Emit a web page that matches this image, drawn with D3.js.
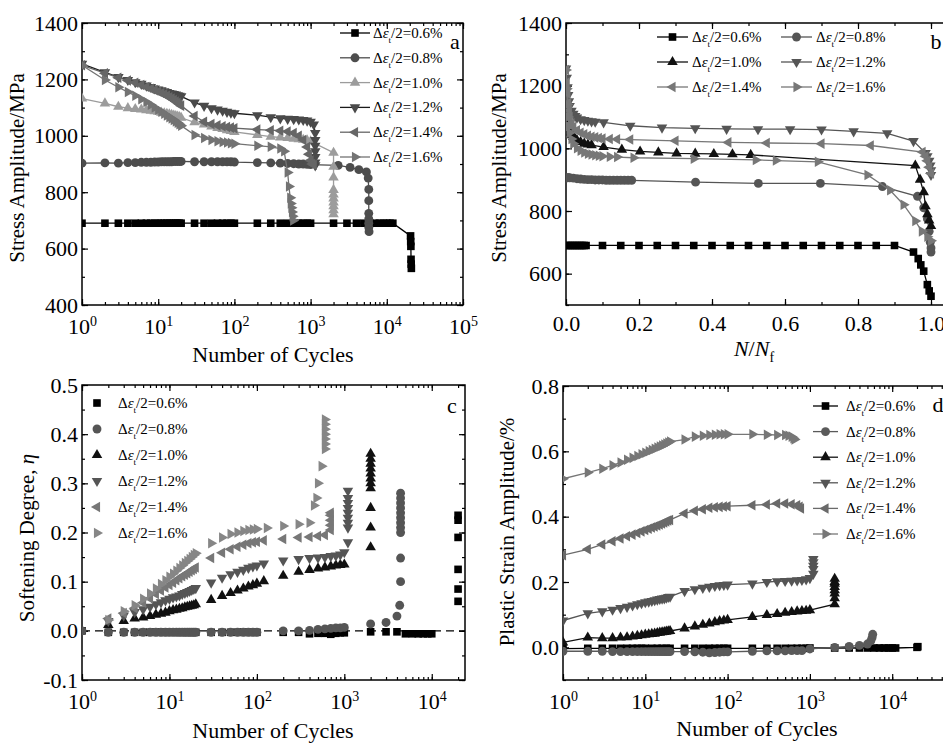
<!DOCTYPE html>
<html>
<head>
<meta charset="utf-8">
<script src="https://cdn.jsdelivr.net/npm/d3@7"></script>
<style>
  body { margin: 0; background: #fff; }
  svg { display: block; font-family: "Liberation Serif", "DejaVu Serif", serif; }
</style>
</head>
<body>
<div id="chart"></div>
<script>
// strain amplitude levels shown in every legend
const strainLevels = ["0.6", "0.8", "1.0", "1.2", "1.4", "1.6"];
const markerShapes = ["square", "circle", "up", "down", "left", "right"];

// tick values
const cycleTicksA = [1, 10, 100, 1000, 10000, 100000];
const cycleTicksC = [1, 10, 100, 1000, 10000];
const stressTicksA = [400, 600, 800, 1000, 1200, 1400];
const stressTicksB = [600, 800, 1000, 1200, 1400];
const ratioTicks = [0, 0.2, 0.4, 0.6, 0.8, 1.0];
const softTicks = [-0.1, 0, 0.1, 0.2, 0.3, 0.4, 0.5];
const plasticTicks = [0, 0.2, 0.4, 0.6, 0.8];

// (a) stress amplitude (MPa) vs number of cycles
const stressCycles06 = [[1,690],[2,690],[3,690],[4,690],[5,690],[6,690],[7,690],[8,690],[9,690],[10,690],[11,690],[12,690],[13,690],[14,690],[15,690],[16,690],[17,690],[18,690],[19,690],[20,690],[30,690],[40,690],[50,690],[60,690],[70,690],[80,690],[90,690],[100,690],[200,690],[300,690],[400,690],[500,690],[600,690],[700,690],[800,690],[900,690],[1000,690],[2000,690],[3000,690],[4000,690],[5000,690],[6000,690],[7000,690],[8000,690],[9000,690],[10000,690],[11000,690],[12000,690],[20500,645],[20600,625],[20700,608],[20800,562],[20900,545],[21000,530]];
const stressCycles08 = [[1,903],[2,904],[3,903],[4,905],[5,905],[6,906],[7,906],[8,906],[9,907],[10,907],[11,908],[12,908],[13,908],[14,908],[15,908],[16,909],[17,909],[18,909],[19,909],[20,909],[30,908],[40,908],[50,908],[60,908],[70,908],[80,908],[90,908],[100,907],[200,905],[300,904],[400,903],[500,902],[600,901],[700,900],[800,900],[900,899],[1000,898],[2300,895],[3300,888],[4300,880],[5400,872],[5700,850],[5800,810],[5800,770],[5800,725],[5800,705],[5800,690],[5800,675],[5850,660]];
const stressCycles10 = [[1,1132],[2,1115],[3,1103],[4,1098],[5,1095],[6,1093],[7,1091],[8,1089],[9,1087],[10,1085],[11,1082],[12,1080],[13,1078],[14,1076],[15,1074],[16,1072],[17,1070],[18,1068],[19,1066],[20,1064],[30,1048],[40,1040],[50,1033],[60,1028],[70,1024],[80,1020],[90,1017],[100,1014],[200,1003],[300,997],[400,994],[500,992],[600,990],[700,988],[800,986],[900,984],[1000,980],[2000,940],[2000,890],[2000,852],[2000,808],[2000,792],[2000,778],[2000,764],[2000,750],[2000,736],[2000,722]];
const stressCycles12 = [[1,1255],[2,1225],[3,1208],[4,1198],[5,1190],[6,1184],[7,1178],[8,1173],[9,1168],[10,1164],[11,1161],[12,1158],[13,1155],[14,1152],[15,1150],[16,1148],[17,1146],[18,1144],[19,1142],[20,1140],[30,1118],[40,1106],[50,1098],[60,1093],[70,1089],[80,1085],[90,1082],[100,1080],[200,1073],[300,1066],[400,1062],[500,1060],[600,1059],[700,1058],[800,1056],[900,1054],[1000,1050],[1100,1040],[1150,1010],[1150,985],[1150,965],[1150,945],[1150,925],[1150,905],[1150,895]];
const stressCycles14 = [[1,1250],[2,1222],[3,1206],[4,1196],[5,1188],[6,1180],[7,1173],[8,1167],[9,1162],[10,1157],[11,1152],[12,1147],[13,1142],[14,1137],[15,1132],[16,1127],[17,1122],[18,1117],[19,1112],[20,1107],[30,1070],[40,1050],[50,1042],[60,1037],[70,1034],[80,1031],[90,1029],[100,1027],[200,1022],[300,1020],[400,1018],[500,1015],[600,1010],[700,1000],[800,985],[900,960],[950,935],[1000,912],[1050,900],[1100,897]];
const stressCycles16 = [[1,1250],[2,1198],[3,1172],[4,1155],[5,1142],[6,1130],[7,1120],[8,1110],[9,1100],[10,1092],[11,1085],[12,1078],[13,1072],[14,1066],[15,1061],[16,1056],[17,1051],[18,1046],[19,1041],[20,1036],[30,1003],[40,992],[50,985],[60,981],[70,978],[80,976],[90,974],[100,972],[200,965],[300,961],[400,955],[450,945],[500,870],[520,820],[540,780],[550,760],[560,745],[570,730],[580,715],[590,700]];

// (b) stress amplitude (MPa) vs N/Nf
const stressRatio06 = [[0,690],[0.005,690],[0.01,690],[0.015,690],[0.02,690],[0.025,690],[0.03,690],[0.035,690],[0.04,690],[0.045,690],[0.05,690],[0.055,690],[0.1,690],[0.15,690],[0.2,690],[0.25,690],[0.3,690],[0.35,690],[0.4,690],[0.45,690],[0.5,690],[0.55,690],[0.6,690],[0.65,690],[0.7,690],[0.75,690],[0.8,690],[0.85,690],[0.9,690],[0.952,669],[0.965,648],[0.972,628],[0.98,608],[0.99,565],[0.995,545],[1.0,528]];
const stressRatio08 = [[0,905],[0.005,907],[0.01,906],[0.02,905],[0.03,903],[0.04,902],[0.05,901],[0.06,900],[0.07,900],[0.08,899],[0.09,899],[0.1,899],[0.11,898],[0.12,898],[0.13,898],[0.14,898],[0.15,898],[0.16,898],[0.17,898],[0.18,898],[0.355,892],[0.527,888],[0.697,888],[0.867,878],[0.963,847],[0.98,810],[0.99,775],[0.995,735],[0.998,700],[1.0,682],[1.0,669]];
const stressRatio10 = [[0,1100],[0.002,1085],[0.005,1070],[0.008,1060],[0.012,1050],[0.016,1042],[0.02,1036],[0.025,1030],[0.03,1026],[0.04,1020],[0.05,1015],[0.06,1012],[0.07,1010],[0.103,1004],[0.153,996],[0.203,990],[0.253,987],[0.303,984],[0.354,983],[0.405,982],[0.456,981],[0.506,979],[0.957,945],[0.97,900],[0.98,860],[0.985,815],[0.99,790],[0.995,770],[1.0,752]];
const stressRatio12 = [[0,1255],[0.002,1225],[0.004,1195],[0.006,1170],[0.008,1150],[0.01,1135],[0.015,1120],[0.02,1110],[0.025,1103],[0.03,1098],[0.04,1093],[0.05,1090],[0.06,1088],[0.07,1086],[0.08,1085],[0.103,1083],[0.176,1072],[0.263,1066],[0.354,1064],[0.44,1062],[0.526,1061],[0.614,1061],[0.7,1060],[0.788,1054],[0.88,1048],[0.952,1023],[0.985,985],[0.99,975],[0.995,960],[0.998,945],[1.0,930],[1.0,915]];
const stressRatio14 = [[0,1250],[0.002,1210],[0.004,1175],[0.006,1145],[0.008,1120],[0.01,1100],[0.015,1080],[0.02,1068],[0.03,1058],[0.04,1050],[0.05,1045],[0.06,1040],[0.07,1037],[0.08,1035],[0.09,1033],[0.1,1031],[0.12,1030],[0.14,1029],[0.176,1028],[0.3,1024],[0.445,1019],[0.55,1017],[0.7,1015],[0.835,1009],[0.977,988],[0.985,975],[0.99,960],[0.995,940],[1.0,920]];
const stressRatio16 = [[0,1250],[0.002,1190],[0.004,1140],[0.006,1100],[0.008,1070],[0.01,1050],[0.015,1030],[0.02,1015],[0.03,1000],[0.04,992],[0.05,987],[0.06,983],[0.07,980],[0.08,978],[0.09,976],[0.1,975],[0.12,973],[0.14,972],[0.185,970],[0.35,967],[0.52,963],[0.575,961],[0.69,957],[0.826,915],[0.888,866],[0.925,820],[0.957,768],[0.975,735],[0.99,718],[1.0,705]];

// (c) softening degree vs number of cycles
const soften06 = [[1,0],[2,-0.003],[3,-0.003],[4,-0.003],[5,-0.003],[6,-0.003],[7,-0.003],[8,-0.003],[9,-0.003],[10,-0.003],[12,-0.003],[14,-0.003],[16,-0.003],[18,-0.003],[20,-0.003],[30,-0.003],[40,-0.003],[50,-0.003],[60,-0.003],[70,-0.003],[80,-0.003],[90,-0.003],[100,-0.003],[200,-0.003],[300,-0.003],[400,-0.006],[500,-0.005],[600,-0.005],[700,-0.007],[800,-0.005],[900,-0.004],[1000,-0.004],[2000,-0.002],[3000,-0.002],[4000,-0.002],[5000,-0.006],[6000,-0.006],[7000,-0.006],[8000,-0.006],[9000,-0.006],[10000,-0.006],[20000,0.06],[20000,0.085],[20000,0.125],[20000,0.19],[20000,0.225],[20000,0.235]];
const soften08 = [[1,0],[2,-0.003],[3,-0.003],[4,-0.003],[5,-0.003],[6,-0.003],[7,-0.003],[8,-0.003],[9,-0.003],[10,-0.003],[11,-0.003],[12,-0.003],[13,-0.003],[14,-0.003],[15,-0.003],[16,-0.003],[17,-0.003],[18,-0.003],[19,-0.003],[20,-0.003],[30,-0.003],[40,-0.003],[50,-0.003],[60,-0.003],[70,-0.003],[80,-0.003],[90,-0.003],[100,-0.003],[200,0],[300,0],[400,0.001],[500,0.003],[600,0.004],[700,0.005],[800,0.006],[900,0.006],[1000,0.007],[2000,0.014],[3000,0.017],[4000,0.03],[4300,0.052],[4400,0.1],[4400,0.148],[4400,0.2],[4400,0.21],[4400,0.22],[4400,0.23],[4400,0.24],[4400,0.25],[4400,0.26],[4400,0.27],[4400,0.28]];
const soften10 = [[2,0.012],[3,0.02],[4,0.025],[5,0.027],[6,0.03],[7,0.033],[8,0.035],[9,0.037],[10,0.04],[11,0.042],[12,0.043],[13,0.045],[14,0.046],[15,0.048],[16,0.049],[17,0.05],[18,0.051],[19,0.052],[20,0.054],[30,0.063],[40,0.071],[50,0.077],[60,0.082],[70,0.086],[80,0.09],[90,0.093],[100,0.096],[120,0.101],[200,0.112],[300,0.12],[400,0.124],[500,0.127],[600,0.129],[700,0.131],[800,0.133],[900,0.134],[1000,0.135],[2000,0.17],[2000,0.21],[2000,0.25],[2000,0.29],[2000,0.3],[2000,0.31],[2000,0.32],[2000,0.33],[2000,0.34],[2000,0.35],[2000,0.36]];
const soften12 = [[2,0.02],[3,0.031],[4,0.038],[5,0.044],[6,0.049],[7,0.054],[8,0.058],[9,0.062],[10,0.065],[11,0.068],[12,0.07],[13,0.072],[14,0.075],[15,0.077],[16,0.079],[17,0.081],[18,0.083],[19,0.085],[20,0.087],[30,0.098],[40,0.108],[50,0.115],[60,0.12],[70,0.124],[80,0.128],[90,0.131],[100,0.133],[120,0.137],[200,0.143],[300,0.146],[400,0.148],[500,0.149],[600,0.15],[700,0.152],[800,0.153],[900,0.155],[1000,0.16],[1100,0.18],[1100,0.21],[1100,0.22],[1100,0.23],[1100,0.24],[1100,0.25],[1100,0.26],[1100,0.27],[1100,0.285]];
const soften14 = [[2,0.025],[3,0.036],[4,0.046],[5,0.057],[6,0.066],[7,0.075],[8,0.082],[9,0.088],[10,0.093],[11,0.098],[12,0.103],[13,0.107],[14,0.111],[15,0.114],[16,0.117],[17,0.12],[18,0.123],[19,0.126],[20,0.129],[30,0.148],[40,0.159],[50,0.166],[60,0.171],[70,0.175],[80,0.178],[90,0.18],[100,0.181],[120,0.184],[200,0.187],[300,0.19],[400,0.191],[500,0.193],[600,0.195],[700,0.205],[700,0.215],[700,0.225],[700,0.235],[700,0.24]];
const soften16 = [[2,0.022],[3,0.04],[4,0.052],[5,0.065],[6,0.076],[7,0.086],[8,0.095],[9,0.103],[10,0.11],[11,0.116],[12,0.122],[13,0.128],[14,0.133],[15,0.138],[16,0.142],[17,0.146],[18,0.15],[19,0.154],[20,0.158],[30,0.178],[40,0.19],[50,0.197],[60,0.2],[70,0.203],[80,0.205],[90,0.206],[100,0.207],[130,0.209],[200,0.213],[300,0.217],[400,0.22],[450,0.255],[480,0.27],[500,0.3],[550,0.335],[600,0.37],[600,0.38],[600,0.39],[600,0.4],[600,0.41],[600,0.42],[600,0.43]];

// (d) plastic strain amplitude (%) vs number of cycles
const plastic06 = [[1,-0.004],[2,-0.003],[3,-0.003],[4,-0.003],[5,-0.003],[6,-0.003],[7,-0.003],[8,-0.003],[9,-0.003],[10,-0.003],[12,-0.003],[14,-0.003],[16,-0.003],[18,-0.003],[20,-0.003],[30,-0.003],[40,-0.003],[50,-0.003],[60,-0.003],[70,-0.003],[80,-0.003],[90,-0.003],[100,-0.003],[200,-0.003],[300,-0.003],[400,-0.003],[500,-0.003],[600,-0.003],[700,-0.003],[800,-0.003],[900,-0.003],[1000,-0.002],[2000,-0.002],[3000,-0.002],[4000,-0.002],[5000,-0.002],[6000,-0.002],[7000,-0.002],[8000,-0.002],[9000,-0.002],[10000,-0.002],[11000,-0.002],[20000,0],[20500,0.002]];
const plastic08 = [[1,-0.012],[2,-0.012],[3,-0.012],[4,-0.013],[5,-0.013],[6,-0.013],[7,-0.013],[8,-0.013],[9,-0.013],[10,-0.013],[11,-0.013],[12,-0.013],[13,-0.013],[14,-0.013],[15,-0.013],[16,-0.013],[17,-0.013],[18,-0.013],[19,-0.013],[20,-0.013],[30,-0.013],[40,-0.014],[50,-0.015],[60,-0.017],[70,-0.016],[80,-0.015],[90,-0.014],[100,-0.014],[200,-0.012],[300,-0.011],[400,-0.011],[500,-0.011],[600,-0.01],[700,-0.01],[800,-0.01],[1000,-0.005],[2000,0],[3000,0.003],[4000,0.006],[5000,0.01],[5500,0.02],[5700,0.03],[5800,0.04]];
const plastic10 = [[1,0.015],[2,0.03],[3,0.028],[4,0.028],[5,0.03],[6,0.031],[7,0.033],[8,0.035],[9,0.037],[10,0.039],[11,0.04],[12,0.041],[13,0.042],[14,0.044],[15,0.045],[16,0.046],[17,0.047],[18,0.048],[19,0.049],[20,0.05],[30,0.058],[40,0.064],[50,0.069],[60,0.073],[70,0.077],[80,0.08],[90,0.082],[100,0.084],[200,0.093],[300,0.099],[400,0.102],[500,0.106],[600,0.108],[700,0.11],[800,0.111],[900,0.112],[1000,0.114],[2000,0.132],[2000,0.15],[2000,0.165],[2000,0.175],[2000,0.185],[2000,0.195],[2000,0.2],[2000,0.21]];
const plastic12 = [[1,0.082],[2,0.104],[3,0.11],[4,0.115],[5,0.12],[6,0.124],[7,0.128],[8,0.132],[9,0.135],[10,0.138],[11,0.14],[12,0.142],[13,0.144],[14,0.146],[15,0.148],[16,0.149],[17,0.15],[18,0.152],[19,0.154],[20,0.155],[30,0.172],[40,0.178],[50,0.182],[60,0.185],[70,0.188],[80,0.19],[90,0.191],[100,0.192],[200,0.195],[300,0.2],[400,0.202],[500,0.203],[600,0.204],[700,0.205],[800,0.206],[900,0.208],[1000,0.212],[1100,0.225],[1100,0.24],[1100,0.25],[1100,0.26],[1100,0.27]];
const plastic14 = [[1,0.282],[2,0.3],[3,0.315],[4,0.325],[5,0.333],[6,0.34],[7,0.345],[8,0.35],[9,0.355],[10,0.359],[11,0.363],[12,0.367],[13,0.37],[14,0.373],[15,0.376],[16,0.379],[17,0.382],[18,0.385],[19,0.388],[20,0.39],[30,0.41],[40,0.418],[50,0.423],[60,0.427],[70,0.429],[80,0.43],[90,0.431],[100,0.432],[200,0.435],[300,0.437],[400,0.44],[500,0.44],[600,0.438],[700,0.435],[750,0.43],[780,0.425]];
const plastic16 = [[1,0.516],[2,0.535],[3,0.547],[4,0.557],[5,0.566],[6,0.574],[7,0.58],[8,0.586],[9,0.591],[10,0.596],[11,0.6],[12,0.604],[13,0.608],[14,0.612],[15,0.615],[16,0.618],[17,0.621],[18,0.624],[19,0.627],[20,0.63],[30,0.636],[40,0.645],[50,0.648],[60,0.65],[70,0.651],[80,0.652],[90,0.652],[100,0.652],[200,0.652],[300,0.651],[400,0.65],[500,0.65],[550,0.648],[600,0.645],[630,0.64],[650,0.636]];

const width = 943;
const height = 745;

const svg = d3
  .select("#chart")
  .append("svg")
  .attr("width", width)
  .attr("height", height)
  .attr("viewBox", [0, 0, width, height]);

/**
 * Marker path for a given shape, centred on 0,0.
 */
function markerPath(shape) {
  if (shape === "square") return d3.symbol(d3.symbolSquare, 58)();
  if (shape === "circle") return d3.symbol(d3.symbolCircle, 62)();
  return d3.symbol(d3.symbolTriangle, 48)();
}

function markerRotation(shape) {
  return { down: 180, left: -90, right: 90 }[shape] || 0;
}

/**
 * Legend label "Δε_t/2=x%" with italic epsilon and subscript t.
 */
function strainLabel(text, level, size) {
  text.append("tspan").text("Δ");
  text.append("tspan").attr("font-style", "italic").text("ε");
  text.append("tspan").attr("font-size", size * 0.6).attr("dy", size * 0.35).text("t");
  text.append("tspan").attr("dy", -size * 0.35).text(`/2=${level}%`);
}

function drawPanel(p) {
  const g = svg.append("g").attr("class", `panel-${p.id}`);

  // scales
  const x = (p.xLog ? d3.scaleLog() : d3.scaleLinear())
    .domain(p.xDomain)
    .range([p.left, p.right]);
  const y = d3.scaleLinear().domain(p.yDomain).range([p.bottom, p.top]);

  const tickFont = 22;
  const titleFont = 22;

  // minor ticks (unlabelled)
  const xMinor = p.xLog ? x.ticks() : x.ticks(p.xMinorCount);
  const yMinor = y.ticks(p.yMinorCount);

  const styleAxis = (sel) => {
    sel.select(".domain").remove();
    sel.attr("font-family", null).attr("font-size", tickFont);
    sel.selectAll(".tick line").attr("stroke", "#000").attr("stroke-width", 1.2);
  };

  // bottom axis
  g.append("g")
    .attr("transform", `translate(0,${p.bottom})`)
    .call(d3.axisBottom(x).tickValues(xMinor).tickFormat("").tickSize(-3).tickSizeOuter(0))
    .call(styleAxis);
  g.append("g")
    .attr("transform", `translate(0,${p.bottom})`)
    .call(
      d3.axisBottom(x).tickValues(p.xTicks).tickSize(-6).tickSizeOuter(0).tickPadding(p.xLog ? 13 : 10)
        .tickFormat(p.xLog ? () => "10" : (d) => d.toFixed(1))
    )
    .call(styleAxis)
    .call((ax) => {
      if (!p.xLog) return;
      ax.selectAll(".tick text").each(function (d) {
        d3.select(this)
          .append("tspan")
          .attr("dy", "-0.55em")
          .attr("font-size", 14)
          .text(Math.round(Math.log10(d)));
      });
    });

  // top axis (mirrored ticks)
  g.append("g")
    .attr("transform", `translate(0,${p.top})`)
    .call(d3.axisTop(x).tickValues(xMinor).tickFormat("").tickSize(-3).tickSizeOuter(0))
    .call(styleAxis);
  g.append("g")
    .attr("transform", `translate(0,${p.top})`)
    .call(d3.axisTop(x).tickValues(p.xTicks).tickFormat("").tickSize(-6).tickSizeOuter(0))
    .call(styleAxis);

  // left axis
  g.append("g")
    .attr("transform", `translate(${p.left},0)`)
    .call(d3.axisLeft(y).tickValues(yMinor).tickFormat("").tickSize(-3).tickSizeOuter(0))
    .call(styleAxis);
  g.append("g")
    .attr("transform", `translate(${p.left},0)`)
    .call(
      d3.axisLeft(y).tickValues(p.yTicks).tickSize(-6).tickSizeOuter(0).tickPadding(4)
        .tickFormat(p.yFormat)
    )
    .call(styleAxis);

  // right axis (mirrored ticks)
  g.append("g")
    .attr("transform", `translate(${p.right},0)`)
    .call(d3.axisRight(y).tickValues(yMinor).tickFormat("").tickSize(-3).tickSizeOuter(0))
    .call(styleAxis);
  g.append("g")
    .attr("transform", `translate(${p.right},0)`)
    .call(d3.axisRight(y).tickValues(p.yTicks).tickFormat("").tickSize(-6).tickSizeOuter(0))
    .call(styleAxis);

  // frame
  g.append("rect")
    .attr("x", p.left)
    .attr("y", p.top)
    .attr("width", p.right - p.left)
    .attr("height", p.bottom - p.top)
    .attr("fill", "none")
    .attr("stroke", "#000")
    .attr("stroke-width", 1.5);

  // axis titles
  g.append("text")
    .attr("transform", `translate(${p.yTitleX},${p.yTitleY}) rotate(-90)`)
    .attr("text-anchor", "middle")
    .attr("font-size", p.yTitleFont || 21)
    .call(p.yTitle);
  g.append("text")
    .attr("x", p.xTitleX)
    .attr("y", p.xTitleY)
    .attr("text-anchor", "middle")
    .attr("font-size", titleFont)
    .call(p.xTitle);

  // clip the data to the plot area
  svg.append("clipPath")
    .attr("id", `clip-${p.id}`)
    .append("rect")
    .attr("x", p.left)
    .attr("y", p.top)
    .attr("width", p.right - p.left)
    .attr("height", p.bottom - p.top);

  const plot = g.append("g").attr("clip-path", `url(#clip-${p.id})`);

  // zero reference line (panel c)
  if (p.zeroLine) {
    plot.append("line")
      .attr("x1", p.left)
      .attr("x2", p.right)
      .attr("y1", y(0))
      .attr("y2", y(0))
      .attr("stroke", "#000")
      .attr("stroke-width", 1.2)
      .attr("stroke-dasharray", "8,5");
  }

  const line = d3.line().x((d) => x(d[0])).y((d) => y(d[1]));

  p.series.forEach((data, i) => {
    const shape = markerShapes[i];
    const s = plot.append("g");
    if (p.lines) {
      s.append("path")
        .attr("d", line(data))
        .attr("fill", "none")
        .attr("stroke", p.lineColors[i])
        .attr("stroke-width", 1.3);
    }
    s.selectAll("path.mark")
      .data(data)
      .join("path")
      .attr("class", "mark")
      .attr("d", markerPath(shape))
      .attr("transform", (d) => `translate(${x(d[0])},${y(d[1])}) rotate(${markerRotation(shape)})`)
      .attr("fill", p.colors[i]);
  });

  // legend
  const lg = g.append("g");
  strainLevels.forEach((level, i) => {
    const pos = p.legendPos(i);
    if (p.lines) {
      lg.append("line")
        .attr("x1", pos.x)
        .attr("x2", pos.x + p.legendLine)
        .attr("y1", pos.y)
        .attr("y2", pos.y)
        .attr("stroke", p.lineColors[i])
        .attr("stroke-width", 1.3);
    }
    const mx = p.lines ? pos.x + p.legendLine / 2 : pos.x;
    lg.append("path")
      .attr("d", markerPath(markerShapes[i]))
      .attr("transform", `translate(${mx},${pos.y}) rotate(${markerRotation(markerShapes[i])})`)
      .attr("fill", p.colors[i]);
    lg.append("text")
      .attr("x", pos.x + p.legendTextGap)
      .attr("y", pos.y + 5)
      .attr("font-size", p.legendFont)
      .call((t) => strainLabel(t, level, p.legendFont));
  });

  // panel letter
  g.append("text")
    .attr("x", p.letterX)
    .attr("y", p.letterY)
    .attr("text-anchor", "middle")
    .attr("font-size", 22)
    .text(p.id);
}

const cyclesTitle = (t) => t.text("Number of Cycles");

drawPanel({
  id: "a",
  left: 82, right: 463, top: 23, bottom: 305,
  xLog: true, xDomain: [1, 100000], xTicks: cycleTicksA,
  yDomain: [400, 1400], yTicks: stressTicksA, yMinorCount: 10,
  yFormat: d3.format("d"),
  series: [stressCycles06, stressCycles08, stressCycles10, stressCycles12, stressCycles14, stressCycles16],
  colors: ["#000", "#4d4d4d", "#9c9c9c", "#4a4a4a", "#666", "#737373"],
  lineColors: ["#000", "#4d4d4d", "#9c9c9c", "#1a1a1a", "#666", "#737373"],
  lines: true,
  legendPos: (i) => ({ x: 340, y: 33 + i * 24.8 }),
  legendLine: 30, legendTextGap: 33, legendFont: 15,
  yTitle: (t) => t.text("Stress Amplitude/MPa"),
  yTitleX: 24, yTitleY: 168,
  xTitle: cyclesTitle, xTitleX: 273, xTitleY: 362,
  letterX: 455, letterY: 49,
});

drawPanel({
  id: "b",
  left: 566, right: 566 + 365 * 1.05, top: 23, bottom: 305,
  xLog: false, xDomain: [0, 1.05], xTicks: ratioTicks, xMinorCount: 10,
  yDomain: [500, 1400], yTicks: stressTicksB, yMinorCount: 9,
  yFormat: d3.format("d"),
  series: [stressRatio06, stressRatio08, stressRatio10, stressRatio12, stressRatio14, stressRatio16],
  colors: ["#000", "#555", "#111", "#555", "#777", "#777"],
  lineColors: ["#000", "#555", "#111", "#555", "#777", "#777"],
  lines: true,
  legendPos: (i) => ({ x: i % 2 === 0 ? 657 : 781, y: 37 + Math.floor(i / 2) * 25 }),
  legendLine: 31, legendTextGap: 35, legendFont: 15,
  yTitle: (t) => t.text("Stress Amplitude/MPa"),
  yTitleX: 506, yTitleY: 168,
  xTitle: (t) => {
    t.append("tspan").attr("font-style", "italic").text("N");
    t.append("tspan").text("/");
    t.append("tspan").attr("font-style", "italic").text("N");
    t.append("tspan").attr("font-size", 14).attr("dy", 6).text("f");
  },
  xTitleX: 754, xTitleY: 356,
  letterX: 936, letterY: 49,
});

drawPanel({
  id: "c",
  left: 82, right: 465, top: 385, bottom: 680,
  xLog: true, xDomain: [1, 24000], xTicks: cycleTicksC,
  yDomain: [-0.1, 0.5], yTicks: softTicks, yMinorCount: 12,
  yFormat: (d) => d.toFixed(1),
  series: [soften06, soften08, soften10, soften12, soften14, soften16],
  colors: ["#000", "#555", "#111", "#555", "#777", "#868686"],
  lineColors: ["#000", "#555", "#111", "#555", "#777", "#868686"],
  lines: false, zeroLine: true,
  legendPos: (i) => ({ x: 97, y: 403 + i * 26 }),
  legendLine: 0, legendTextGap: 21, legendFont: 15,
  yTitle: (t) => {
    t.append("tspan").text("Softening Degree, ");
    t.append("tspan").attr("font-style", "italic").text("η");
  },
  yTitleX: 34, yTitleY: 538,
  xTitle: cyclesTitle, xTitleX: 273, xTitleY: 738,
  letterX: 452, letterY: 413,
});

drawPanel({
  id: "d",
  left: 563, right: 563 + 5 * 82.3, top: 386, bottom: 680,
  xLog: true, xDomain: [1, 100000], xTicks: cycleTicksC,
  yDomain: [-0.1, 0.8], yTicks: plasticTicks, yMinorCount: 9,
  yFormat: (d) => d.toFixed(1),
  series: [plastic06, plastic08, plastic10, plastic12, plastic14, plastic16],
  colors: ["#000", "#5a5a5a", "#111", "#555", "#6a6a6a", "#777"],
  lineColors: ["#000", "#5a5a5a", "#111", "#555", "#6a6a6a", "#777"],
  lines: true,
  legendPos: (i) => ({ x: 813, y: 406 + i * 25.6 }),
  legendLine: 25, legendTextGap: 33, legendFont: 15,
  yTitle: (t) => t.text("Plastic Strain Amplitude/%"),
  yTitleX: 514, yTitleY: 532,
  xTitle: cyclesTitle, xTitleX: 757, xTitleY: 736,
  letterX: 938, letterY: 412,
});
</script>
</body>
</html>
